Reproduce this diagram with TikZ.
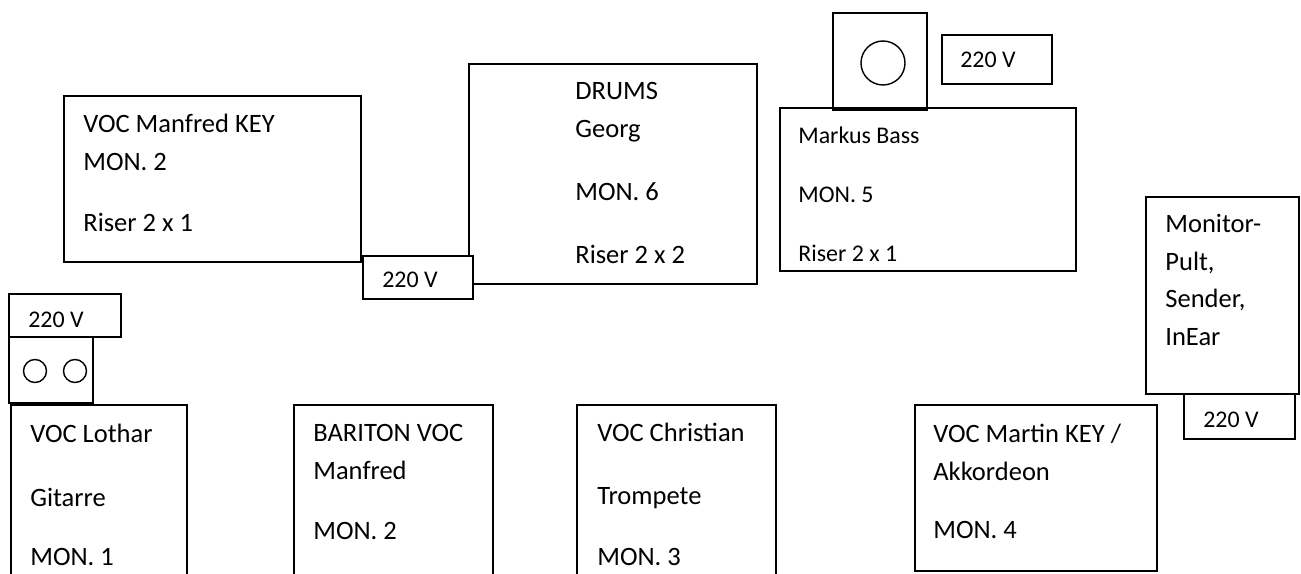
\documentclass[tikz,border=0pt]{standalone}
\usepackage{fontspec}
\setmainfont{Carlito}
\tikzset{
  riser/.style={draw=black, line width=0.8pt, fill=white},
  plug/.style={draw=black, line width=0.8pt, fill=white},
  spk/.style={draw=black, line width=0.8pt},
  lbl/.style={anchor=base west, inner sep=0pt, font=\fontsize{15.1}{18}\selectfont},
  slbl/.style={anchor=base west, inner sep=0pt, font=\fontsize{13.6}{16}\selectfont},
}

\begin{document}
\begin{tikzpicture}[x=0.02cm, y=-0.02cm]
  \useasboundingbox (0,0) rectangle (1301,574);
  \clip (0,0) rectangle (1301,574);

  % back row
  \draw[riser] (64,96) rectangle (361,262);
  \foreach \y/\t [count=\i] in {133/VOC Manfred KEY, 171/MON. 2, 232/Riser 2 x 1}
    \node[lbl] (key-\i) at (83,\y) {\t};

  \draw[riser] (469,64) rectangle (757,284);
  \foreach \y/\t [count=\i] in {100/DRUMS, 138/Georg, 201/MON. 6, 263/Riser 2 x 2}
    \node[lbl] (drums-\i) at (575,\y) {\t};
  \draw[plug] (363,256) rectangle (473,299);
  \node[slbl] (pwr-drums) at (382,287) {220 V};

  \draw[riser] (780,108) rectangle (1076,271);
  \foreach \y/\t [count=\i] in {144/Markus Bass, 203/MON. 5, 261/Riser 2 x 1}
    \node[slbl] (bass-\i) at (798,\y) {\t};
  \draw[spk] (833,13) rectangle (927,110);
  \draw[spk] (883,63) circle[radius=0.44cm];
  \draw[plug] (942,35) rectangle (1052,84);
  \node[slbl] (pwr-bass) at (960,68) {220 V};

  % monitor desk
  \draw[riser] (1146,197) rectangle (1299,394);
  \foreach \y/\t [count=\i] in {233/Monitor-, 270/{Pult,}, 307/{Sender,}, 345/InEar}
    \node[lbl] (desk-\i) at (1165,\y) {\t};
  \draw[plug] (1184,394) rectangle (1295,439);
  \node[slbl] (pwr-desk) at (1203,427) {220 V};

  % guitar amp
  \draw[plug] (9,294) rectangle (121,337);
  \node[slbl] (pwr-git) at (28,327) {220 V};
  \draw[spk] (9,337) rectangle (93,403);
  \draw[spk] (35,371) circle[radius=0.23cm];
  \draw[spk] (75,371) circle[radius=0.23cm];

  % front row
  \draw[riser] (11,405) rectangle (187,600);
  \foreach \y/\t [count=\i] in {442/VOC Lothar, 506/Gitarre, 565/MON. 1}
    \node[lbl] (git-\i) at (30,\y) {\t};

  \draw[riser] (294,405) rectangle (493,600);
  \foreach \y/\t [count=\i] in {441/BARITON VOC, 479/Manfred, 539/MON. 2}
    \node[lbl] (bari-\i) at (313,\y) {\t};

  \draw[riser] (577,405) rectangle (776,600);
  \foreach \y/\t [count=\i] in {441/VOC Christian, 504/Trompete, 565/MON. 3}
    \node[lbl] (trp-\i) at (597,\y) {\t};

  \draw[riser] (915,405) rectangle (1157,571);
  \foreach \y/\t [count=\i] in {442/{VOC Martin KEY /}, 480/Akkordeon, 538/MON. 4}
    \node[lbl] (acc-\i) at (933,\y) {\t};
\end{tikzpicture}
\end{document}
